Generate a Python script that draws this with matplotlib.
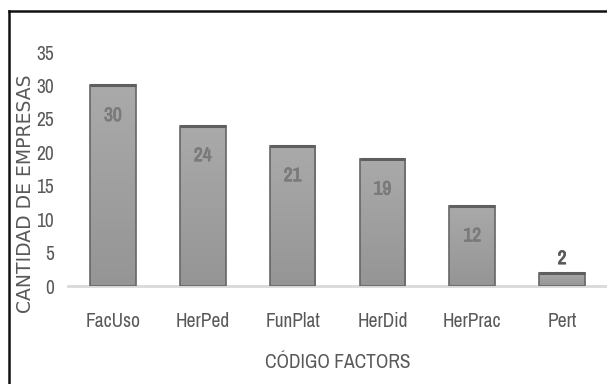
import numpy as np
import matplotlib.pyplot as plt
from matplotlib import font_manager
from matplotlib import patheffects
from matplotlib.lines import Line2D
from matplotlib.colors import LinearSegmentedColormap

factores = ['FacUso', 'HerPed', 'FunPlat', 'HerDid', 'HerPrac', 'Pert']
empresas = [30, 24, 21, 19, 12, 2]
y_ticks = [0, 5, 10, 15, 20, 25, 30, 35]

# look for a narrow face among the installed fonts
narrow_props = dict(family='DejaVu Sans', stretch='condensed')
for f in font_manager.fontManager.ttflist:
    if 'Narrow' in f.name or 'Condensed' in f.name:
        narrow_props = dict(family=f.name, stretch=f.stretch)
        break
    if f.stretch in ('condensed', 'semi-condensed') and f.style == 'normal':
        narrow_props = dict(family=f.name, stretch=f.stretch)

gris_texto = '#595959'

fig = plt.figure(figsize=(6.07, 3.84), dpi=100)
ax = fig.add_axes([68 / 607, 98 / 384, 539 / 607, 234 / 384])

x = np.arange(len(factores))
bars = ax.bar(x, empresas, width=0.51, color='none', edgecolor='#666666',
              linewidth=1.2, zorder=3)

# vertical gray gradient inside every bar
cmap = LinearSegmentedColormap.from_list('gris', ['#959595', '#aaaaaa'])
grad = np.linspace(0, 1, 256).reshape(-1, 1)
for b in bars:
    x0, w, h = b.get_x(), b.get_width(), b.get_height()
    im = ax.imshow(grad, cmap=cmap, origin='lower', aspect='auto',
                   extent=(x0, x0 + w, 0, h), zorder=2)
    im.set_clip_path(b)
    # darker top edge
    ax.plot([x0, x0 + w], [h, h], color='#5f5f5f', lw=2.2, zorder=4,
            solid_capstyle='butt')

# value labels, thickened with a stroke of the same colour
for xi, v in zip(x, empresas):
    if v >= 5:
        col, ypos = '#7a7a7a', v - 4.5
    else:
        col, ypos = '#595959', v + 2.1
    ax.text(xi, ypos, str(v), ha='center', va='center', fontsize=14,
            fontweight='bold', color=col, zorder=5, **narrow_props,
            path_effects=[patheffects.withStroke(linewidth=0.6, foreground=col)])

ax.set_xlim(-0.5, len(factores) - 0.5)
ax.set_ylim(0, 35)
ax.set_yticks(y_ticks)
ax.set_xticks(x)
ax.set_xticklabels(factores)
for lab in ax.get_xticklabels() + ax.get_yticklabels():
    lab.set_family(narrow_props['family'])
    lab.set_stretch(narrow_props['stretch'])
    lab.set_fontsize(14)
    lab.set_color(gris_texto)
ax.tick_params(axis='both', length=0)
ax.tick_params(axis='x', pad=19)
ax.tick_params(axis='y', pad=10)

for s in ['top', 'right', 'left']:
    ax.spines[s].set_visible(False)
ax.spines['bottom'].set_color('#d9d9d9')
ax.spines['bottom'].set_linewidth(2)
ax.spines['bottom'].set_zorder(1)

fig.text(338 / 607, 1 - 362 / 384, 'CÓDIGO FACTORS', ha='center', va='center',
         fontsize=14, color=gris_texto, **narrow_props)
fig.text(26 / 607, 1 - 194 / 384, 'CANTIDAD DE EMPRESAS', rotation=90,
         ha='center', va='center', fontsize=13.5, color=gris_texto)

# frame lines on the left and top edges
fig.add_artist(Line2D([9 / 607, 9 / 607], [0, 1 - 11 / 384], transform=fig.transFigure,
                      color='#111111', lw=1.8))
fig.add_artist(Line2D([9 / 607, 1], [1 - 11 / 384, 1 - 11 / 384], transform=fig.transFigure,
                      color='#111111', lw=1.8))

fig.savefig('out.png', dpi=100)
